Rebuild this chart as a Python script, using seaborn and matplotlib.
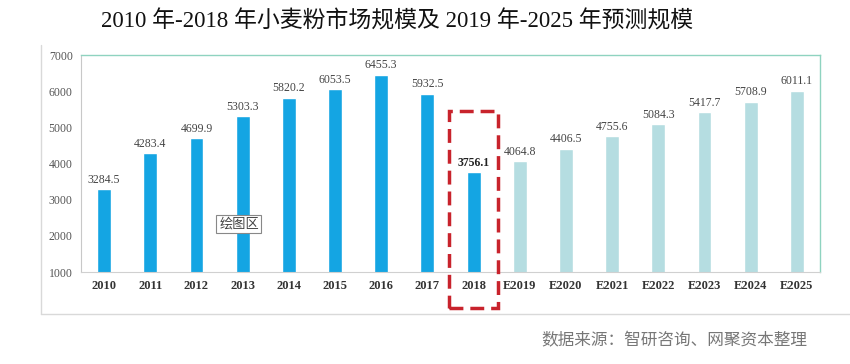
import matplotlib
matplotlib.use("Agg")
import matplotlib.pyplot as plt
import seaborn as sns
from matplotlib.patches import Rectangle
from matplotlib.lines import Line2D

years = ["2010", "2011", "2012", "2013", "2014", "2015", "2016", "2017", "2018",
         "E2019", "E2020", "E2021", "E2022", "E2023", "E2024", "E2025"]
values = [3284.5, 4283.4, 4699.9, 5303.3, 5820.2, 6053.5, 6455.3, 5932.5, 3756.1,
          4064.8, 4406.5, 4755.6, 5084.3, 5417.7, 5708.9, 6011.1]
y_ticks = [1000, 2000, 3000, 4000, 5000, 6000, 7000]

blue = "#14a5e3"
light = "#b5dde1"
colors = [blue if not y.startswith("E") else light for y in years]

sns.set_style("white")
plt.rcParams['font.family'] = ['Noto Sans CJK SC', 'DejaVu Sans']

fig = plt.figure(figsize=(8.5, 3.64), dpi=100)
ax = fig.add_axes([0.0953, 0.2527, 0.8694, 0.596])

sns.barplot(x=years, y=values, hue=years, palette=colors, width=0.3,
            legend=False, ax=ax, saturation=1)

ax.set_ylim(1000, 7000)
ax.set_xlim(-0.5, len(years) - 0.5)
ax.set_yticks(y_ticks)
ax.set_yticklabels([str(t) for t in y_ticks], family="Liberation Serif",
                   fontsize=8.5, color="#555555")
ax.set_xticks(range(len(years)))
ax.set_xticklabels(years, family="Liberation Serif", fontweight="bold",
                   fontsize=9, color="#333333")
ax.tick_params(axis="both", length=0, pad=6)
ax.set_xlabel("")
ax.set_ylabel("")

for side in ["top", "right"]:
    ax.spines[side].set_color("#8fd3c0")
    ax.spines[side].set_linewidth(1.0)
ax.spines["left"].set_color("#c8c8c8")
ax.spines["bottom"].set_color("#d0d0d0")

for i, v in enumerate(values):
    bold = years[i] == "2018"
    ax.text(i, v + 100, f"{v:.1f}", ha="center", va="bottom",
            family="Liberation Serif", fontsize=8.5,
            fontweight="bold" if bold else "normal",
            color="#222222" if bold else "#444444")

# red dashed highlight around 2018
box = Rectangle((7.47, 0), 1.06, 5460, fill=False, edgecolor="#c8232c",
                linestyle=(0, (4, 2)), linewidth=2.5, clip_on=False, zorder=5)
ax.add_patch(box)

ax.text(2.92, 2321, "绘图区", ha="center", va="center", fontsize=9.5,
        color="#444444",
        bbox=dict(boxstyle="square,pad=0.2", facecolor="white",
                  edgecolor="#888888", linewidth=0.8))

# outer chart frame
fig.add_artist(Line2D([0.048, 0.048], [0.137, 0.876], color="#d9d9d9", lw=1))
fig.add_artist(Line2D([0.048, 1.0], [0.137, 0.137], color="#d9d9d9", lw=1))

fig.text(0.467, 0.94, "2010 年-2018 年小麦粉市场规模及 2019 年-2025 年预测规模",
         ha="center", va="center", fontsize=16.5, color="#111111",
         family=["Liberation Serif", "Noto Sans CJK SC"])
fig.text(0.95, 0.063, "数据来源：智研咨询、网聚资本整理", ha="right", va="center",
         fontsize=12, color="#777777")

fig.savefig("out.png", dpi=100)
